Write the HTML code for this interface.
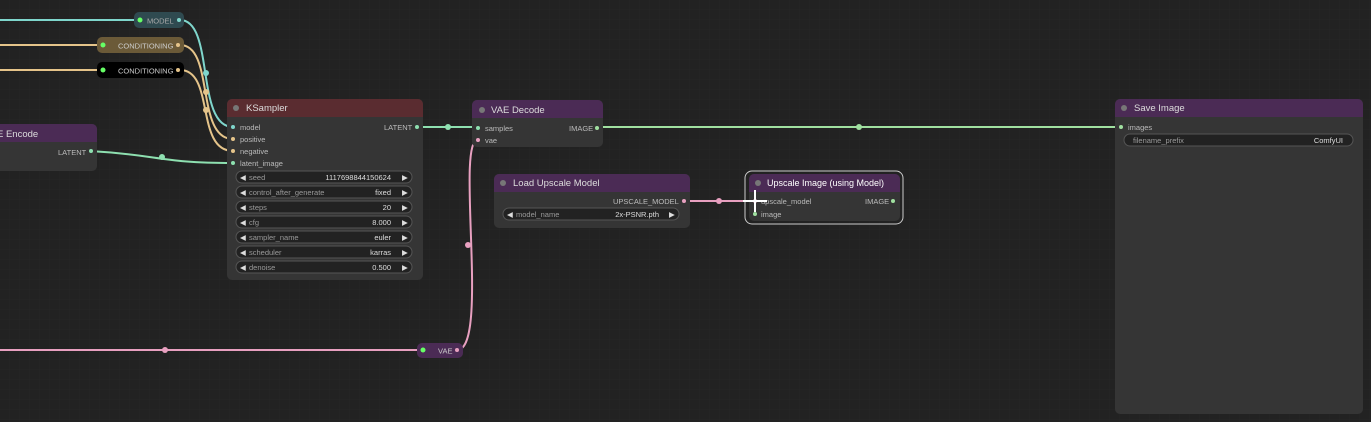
<!DOCTYPE html>
<html><head><style>
body{margin:0;width:1371px;height:422px;overflow:hidden;background:#222;font-family:"Liberation Sans",sans-serif}
svg{position:absolute;left:0;top:0}
</style></head><body>
<svg width="1371" height="422" viewBox="0 0 1371 422" font-family="Liberation Sans, sans-serif">
<defs><pattern id="g" width="10" height="10" patternUnits="userSpaceOnUse"><path d="M10 0V10H0" fill="none" stroke="#262626" stroke-width="1"/></pattern></defs>
<rect width="1371" height="422" fill="#222"/>
<rect width="1371" height="422" fill="url(#g)"/>
<g fill="none" stroke-width="2">
<path d="M0 20H138" stroke="#7fd6cc"/>
<path d="M0 45H100" stroke="#e5c48a"/>
<path d="M0 70H100" stroke="#e5c48a"/>
<path d="M0 350H420" stroke="#e8a0c0"/>
<path d="M180 20C215 20 195 127 233 127" stroke="#7fd6cc"/>
<path d="M180 45C215 45 195 139 233 139" stroke="#e5c48a"/>
<path d="M180 70C215 70 195 151 233 151" stroke="#e5c48a"/>
<path d="M90 151C160 155 160 163 233 163" stroke="#8ee0b0"/>
<path d="M417 127H478" stroke="#8ee0b0"/>
<path d="M597 127H1121" stroke="#a0e0a0"/>
<path d="M457 350C490 350 455 140 478 140" stroke="#e8a0c0"/>
<path d="M684 201H755" stroke="#e8a0c0"/>
</g>
<g>
<circle cx="206" cy="73" r="3" fill="#7fd6cc"/><circle cx="206" cy="92" r="3" fill="#e5c48a"/><circle cx="206" cy="110" r="3" fill="#e5c48a"/>
<circle cx="162" cy="157" r="3" fill="#8ee0b0"/><circle cx="448" cy="127" r="3" fill="#8ee0b0"/>
<circle cx="859" cy="127" r="3" fill="#a0e0a0"/><circle cx="719" cy="201" r="3" fill="#e8a0c0"/>
<circle cx="165" cy="350" r="3" fill="#e8a0c0"/><circle cx="468" cy="245" r="3" fill="#e8a0c0"/>
</g>
<rect x="134" y="12" width="50" height="16" rx="5" fill="#2f4a50"/>
<circle cx="140" cy="20" r="2.5" fill="#6f6"/><circle cx="179" cy="20" r="2" fill="#7fd6cc"/>
<text x="147" y="23.5" font-size="7.5" fill="#aaa">MODEL</text>
<rect x="97" y="37" width="87" height="16" rx="5" fill="#6b5a38"/>
<circle cx="103" cy="45" r="2.5" fill="#6f6"/><circle cx="178" cy="45" r="2" fill="#e5c48a"/>
<text x="118" y="48.5" font-size="7.5" fill="#ccc">CONDITIONING</text>
<rect x="97" y="62" width="87" height="16" rx="5" fill="#000"/>
<circle cx="103" cy="70" r="2.5" fill="#6f6"/><circle cx="178" cy="70" r="2" fill="#e5c48a"/>
<text x="118" y="73.5" font-size="7.5" fill="#ccc">CONDITIONING</text>
<rect x="417" y="343" width="46" height="15" rx="5" fill="#4b2b55"/>
<circle cx="423" cy="350" r="2.5" fill="#6f6"/><circle cx="457" cy="350" r="2" fill="#e8a0c0"/>
<text x="438" y="353.5" font-size="7.5" fill="#ccc">VAE</text>
<rect x="-10" y="124" width="107" height="47" rx="5" fill="#353535"/>
<path d="M-10 142V129a5 5 0 0 1 5-5H92a5 5 0 0 1 5 5V142Z" fill="#4b2b55"/>
<text x="-3" y="137" font-size="9.5" fill="#ddd">E Encode</text>
<text x="58" y="155" font-size="7.5" fill="#bbb">LATENT</text><circle cx="91" cy="151" r="2" fill="#8ee0b0"/>
<rect x="227" y="99" width="196" height="181" rx="5" fill="#353535"/>
<path d="M227 117V104a5 5 0 0 1 5-5H418a5 5 0 0 1 5 5V117Z" fill="#5a2c30"/>
<circle cx="236" cy="108" r="3" fill="#777"/>
<text x="246" y="111" font-size="9.5" fill="#ddd">KSampler</text>
<g font-size="7.5" fill="#bbb">
<circle cx="233" cy="127" r="2" fill="#7fd6cc"/><text x="240" y="130">model</text>
<circle cx="233" cy="139" r="2" fill="#e5c48a"/><text x="240" y="142">positive</text>
<circle cx="233" cy="151" r="2" fill="#e5c48a"/><text x="240" y="154">negative</text>
<circle cx="233" cy="163" r="2" fill="#8ee0b0"/><text x="240" y="166">latent_image</text>
<text x="384" y="130">LATENT</text><circle cx="417" cy="127" r="2" fill="#8ee0b0"/>
</g>
<g font-size="7.5">
<g fill="#222" stroke="#555"><rect x="236" y="171" width="176" height="12" rx="6"/><rect x="236" y="186" width="176" height="12" rx="6"/><rect x="236" y="201" width="176" height="12" rx="6"/><rect x="236" y="216" width="176" height="12" rx="6"/><rect x="236" y="231" width="176" height="12" rx="6"/><rect x="236" y="246" width="176" height="12" rx="6"/><rect x="236" y="261" width="176" height="12" rx="6"/></g>
<g fill="#ddd">
<text x="240" y="180">◀</text><text x="402" y="180">▶</text>
<text x="240" y="195">◀</text><text x="402" y="195">▶</text>
<text x="240" y="210">◀</text><text x="402" y="210">▶</text>
<text x="240" y="225">◀</text><text x="402" y="225">▶</text>
<text x="240" y="240">◀</text><text x="402" y="240">▶</text>
<text x="240" y="255">◀</text><text x="402" y="255">▶</text>
<text x="240" y="270">◀</text><text x="402" y="270">▶</text>
</g>
<g fill="#999"><text x="249" y="180">seed</text><text x="249" y="195">control_after_generate</text><text x="249" y="210">steps</text><text x="249" y="225">cfg</text><text x="249" y="240">sampler_name</text><text x="249" y="255">scheduler</text><text x="249" y="270">denoise</text></g>
<g fill="#ddd" text-anchor="end"><text x="391" y="180">1117698844150624</text><text x="391" y="195">fixed</text><text x="391" y="210">20</text><text x="391" y="225">8.000</text><text x="391" y="240">euler</text><text x="391" y="255">karras</text><text x="391" y="270">0.500</text></g>
</g>
<rect x="472" y="100" width="131" height="47" rx="5" fill="#353535"/>
<path d="M472 118V105a5 5 0 0 1 5-5H598a5 5 0 0 1 5 5V118Z" fill="#4b2b55"/>
<circle cx="482" cy="110" r="3" fill="#777"/><text x="491" y="113" font-size="9.5" fill="#ddd">VAE Decode</text>
<g font-size="7.5" fill="#bbb"><circle cx="478" cy="128" r="2" fill="#8ee0b0"/><text x="485" y="131">samples</text>
<circle cx="478" cy="140" r="2" fill="#e8a0c0"/><text x="485" y="143">vae</text>
<text x="569" y="131">IMAGE</text><circle cx="597" cy="128" r="2" fill="#a0e0a0"/></g>
<rect x="494" y="174" width="196" height="54" rx="5" fill="#353535"/>
<path d="M494 192V179a5 5 0 0 1 5-5H685a5 5 0 0 1 5 5V192Z" fill="#4b2b55"/>
<circle cx="503" cy="183" r="3" fill="#777"/><text x="513" y="186" font-size="9.5" fill="#ddd">Load Upscale Model</text>
<text x="613" y="204" font-size="7.5" fill="#bbb">UPSCALE_MODEL</text><circle cx="684" cy="201" r="2" fill="#e8a0c0"/>
<rect x="503" y="208" width="176" height="12" rx="6" fill="#222" stroke="#555"/>
<g font-size="7.5"><text x="507" y="217" fill="#ddd">◀</text><text x="516" y="217" fill="#999">model_name</text><text x="659" y="217" fill="#ddd" text-anchor="end">2x-PSNR.pth</text><text x="669" y="217" fill="#ddd">▶</text></g>
<rect x="745" y="171" width="158" height="53" rx="7" fill="none" stroke="#ccc" stroke-width="1"/>
<rect x="749" y="174" width="151" height="47" rx="5" fill="#353535"/>
<path d="M749 192V179a5 5 0 0 1 5-5H895a5 5 0 0 1 5 5V192Z" fill="#4b2b55"/>
<circle cx="758" cy="183" r="3" fill="#777"/><text x="767" y="186" font-size="9" fill="#fff">Upscale Image (using Model)</text>
<g font-size="7.5" fill="#bbb"><circle cx="755" cy="201" r="2" fill="#e8a0c0"/><text x="761" y="204">upscale_model</text>
<circle cx="755" cy="214" r="2" fill="#a0e0a0"/><text x="761" y="217">image</text>
<text x="865" y="204">IMAGE</text><circle cx="893" cy="201" r="2" fill="#a0e0a0"/></g>
<path d="M755 190V212M743 201H767" stroke="#fff" stroke-width="2"/>
<rect x="1115" y="99" width="248" height="315" rx="5" fill="#353535"/>
<path d="M1115 117V104a5 5 0 0 1 5-5H1358a5 5 0 0 1 5 5V117Z" fill="#4b2b55"/>
<circle cx="1124" cy="108" r="3" fill="#777"/><text x="1134" y="111" font-size="9.5" fill="#ddd">Save Image</text>
<circle cx="1121" cy="127" r="2" fill="#a0e0a0"/><text x="1128" y="130" font-size="7.5" fill="#bbb">images</text>
<rect x="1124" y="134" width="229" height="12" rx="6" fill="#222" stroke="#555"/>
<text x="1133" y="143" font-size="7.5" fill="#999">filename_prefix</text><text x="1343" y="143" font-size="7.5" fill="#ddd" text-anchor="end">ComfyUI</text>
</svg>
</body></html>
